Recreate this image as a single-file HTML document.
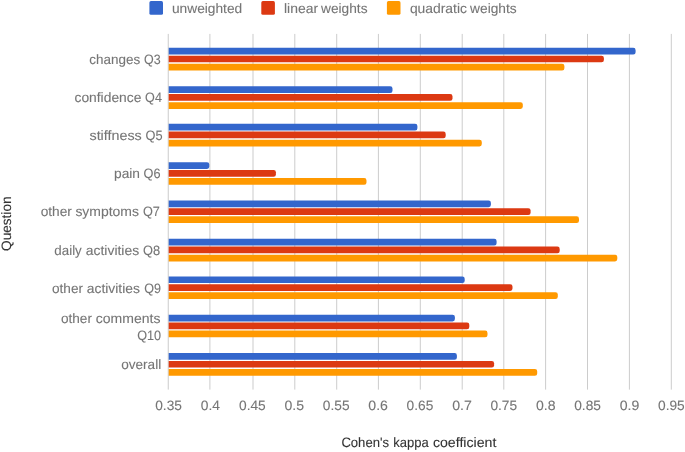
<!DOCTYPE html><html><head><meta charset="utf-8"><style>html,body{margin:0;padding:0;background:#fff}svg{display:block;will-change:transform}text{text-rendering:geometricPrecision;stroke-width:0.1px;paint-order:stroke;font-family:"Liberation Sans",sans-serif;font-size:13.6px}</style></head><body>
<svg width="685" height="452" viewBox="0 0 685 452">
<rect width="685" height="452" fill="#fff"/>
<rect x="167.75" y="33.9" width="1" height="355.70" fill="#ccc"/>
<rect x="209.40" y="33.9" width="1" height="355.70" fill="#ccc"/>
<rect x="252.50" y="33.9" width="1" height="355.70" fill="#ccc"/>
<rect x="294.30" y="33.9" width="1" height="355.70" fill="#ccc"/>
<rect x="336.20" y="33.9" width="1" height="355.70" fill="#ccc"/>
<rect x="377.90" y="33.9" width="1" height="355.70" fill="#ccc"/>
<rect x="419.80" y="33.9" width="1" height="355.70" fill="#ccc"/>
<rect x="461.70" y="33.9" width="1" height="355.70" fill="#ccc"/>
<rect x="503.30" y="33.9" width="1" height="355.70" fill="#ccc"/>
<rect x="545.10" y="33.9" width="1" height="355.70" fill="#ccc"/>
<rect x="587.00" y="33.9" width="1" height="355.70" fill="#ccc"/>
<rect x="628.90" y="33.9" width="1" height="355.70" fill="#ccc"/>
<rect x="670.80" y="33.9" width="1" height="355.70" fill="#ccc"/>
<path d="M168.70,47.85H633.30A2.3,2.3 0 0 1 635.60,50.15V52.25A2.3,2.3 0 0 1 633.30,54.55H168.70Z" fill="#3366cc"/>
<path d="M168.70,55.65H601.60A2.3,2.3 0 0 1 603.90,57.95V60.05A2.3,2.3 0 0 1 601.60,62.35H168.70Z" fill="#dc3912"/>
<path d="M168.70,63.75H562.10A2.3,2.3 0 0 1 564.40,66.05V68.15A2.3,2.3 0 0 1 562.10,70.45H168.70Z" fill="#ff9900"/>
<path d="M168.70,86.30H390.20A2.3,2.3 0 0 1 392.50,88.60V90.70A2.3,2.3 0 0 1 390.20,93.00H168.70Z" fill="#3366cc"/>
<path d="M168.70,94.10H450.20A2.3,2.3 0 0 1 452.50,96.40V98.50A2.3,2.3 0 0 1 450.20,100.80H168.70Z" fill="#dc3912"/>
<path d="M168.70,102.20H520.50A2.3,2.3 0 0 1 522.80,104.50V106.60A2.3,2.3 0 0 1 520.50,108.90H168.70Z" fill="#ff9900"/>
<path d="M168.70,123.80H415.10A2.3,2.3 0 0 1 417.40,126.10V128.20A2.3,2.3 0 0 1 415.10,130.50H168.70Z" fill="#3366cc"/>
<path d="M168.70,131.60H443.40A2.3,2.3 0 0 1 445.70,133.90V136.00A2.3,2.3 0 0 1 443.40,138.30H168.70Z" fill="#dc3912"/>
<path d="M168.70,139.70H479.50A2.3,2.3 0 0 1 481.80,142.00V144.10A2.3,2.3 0 0 1 479.50,146.40H168.70Z" fill="#ff9900"/>
<path d="M168.70,162.20H207.00A2.3,2.3 0 0 1 209.30,164.50V166.60A2.3,2.3 0 0 1 207.00,168.90H168.70Z" fill="#3366cc"/>
<path d="M168.70,170.00H273.60A2.3,2.3 0 0 1 275.90,172.30V174.40A2.3,2.3 0 0 1 273.60,176.70H168.70Z" fill="#dc3912"/>
<path d="M168.70,178.10H364.20A2.3,2.3 0 0 1 366.50,180.40V182.50A2.3,2.3 0 0 1 364.20,184.80H168.70Z" fill="#ff9900"/>
<path d="M168.70,200.45H488.60A2.3,2.3 0 0 1 490.90,202.75V204.85A2.3,2.3 0 0 1 488.60,207.15H168.70Z" fill="#3366cc"/>
<path d="M168.70,208.25H528.30A2.3,2.3 0 0 1 530.60,210.55V212.65A2.3,2.3 0 0 1 528.30,214.95H168.70Z" fill="#dc3912"/>
<path d="M168.70,216.35H576.70A2.3,2.3 0 0 1 579.00,218.65V220.75A2.3,2.3 0 0 1 576.70,223.05H168.70Z" fill="#ff9900"/>
<path d="M168.70,238.80H494.30A2.3,2.3 0 0 1 496.60,241.10V243.20A2.3,2.3 0 0 1 494.30,245.50H168.70Z" fill="#3366cc"/>
<path d="M168.70,246.60H557.40A2.3,2.3 0 0 1 559.70,248.90V251.00A2.3,2.3 0 0 1 557.40,253.30H168.70Z" fill="#dc3912"/>
<path d="M168.70,254.70H615.00A2.3,2.3 0 0 1 617.30,257.00V259.10A2.3,2.3 0 0 1 615.00,261.40H168.70Z" fill="#ff9900"/>
<path d="M168.70,276.40H462.40A2.3,2.3 0 0 1 464.70,278.70V280.80A2.3,2.3 0 0 1 462.40,283.10H168.70Z" fill="#3366cc"/>
<path d="M168.70,284.20H510.20A2.3,2.3 0 0 1 512.50,286.50V288.60A2.3,2.3 0 0 1 510.20,290.90H168.70Z" fill="#dc3912"/>
<path d="M168.70,292.30H555.50A2.3,2.3 0 0 1 557.80,294.60V296.70A2.3,2.3 0 0 1 555.50,299.00H168.70Z" fill="#ff9900"/>
<path d="M168.70,314.70H452.60A2.3,2.3 0 0 1 454.90,317.00V319.10A2.3,2.3 0 0 1 452.60,321.40H168.70Z" fill="#3366cc"/>
<path d="M168.70,322.50H467.00A2.3,2.3 0 0 1 469.30,324.80V326.90A2.3,2.3 0 0 1 467.00,329.20H168.70Z" fill="#dc3912"/>
<path d="M168.70,330.60H485.20A2.3,2.3 0 0 1 487.50,332.90V335.00A2.3,2.3 0 0 1 485.20,337.30H168.70Z" fill="#ff9900"/>
<path d="M168.70,353.10H454.60A2.3,2.3 0 0 1 456.90,355.40V357.50A2.3,2.3 0 0 1 454.60,359.80H168.70Z" fill="#3366cc"/>
<path d="M168.70,360.90H491.80A2.3,2.3 0 0 1 494.10,363.20V365.30A2.3,2.3 0 0 1 491.80,367.60H168.70Z" fill="#dc3912"/>
<path d="M168.70,369.00H534.90A2.3,2.3 0 0 1 537.20,371.30V373.40A2.3,2.3 0 0 1 534.90,375.70H168.70Z" fill="#ff9900"/>
<text transform="translate(89.29,63.9) scale(0.9911,1)" fill="#757575" stroke="#757575">changes</text>
<text transform="translate(144.04,63.9) scale(0.9169,1)" fill="#757575" stroke="#757575">Q3</text>
<text transform="translate(74.48,101.9) scale(1.0173,1)" fill="#757575" stroke="#757575">confidence</text>
<text transform="translate(145.09,101.9) scale(0.9260,1)" fill="#757575" stroke="#757575">Q4</text>
<text transform="translate(89.47,140.0) scale(1.0537,1)" fill="#757575" stroke="#757575">stiffness</text>
<text transform="translate(145.53,140.0) scale(0.9412,1)" fill="#757575" stroke="#757575">Q5</text>
<text transform="translate(114.02,178.0) scale(1.0113,1)" fill="#757575" stroke="#757575">pain</text>
<text transform="translate(143.53,178.0) scale(0.9374,1)" fill="#757575" stroke="#757575">Q6</text>
<text transform="translate(40.69,216.0) scale(1.0079,1)" fill="#757575" stroke="#757575">other</text>
<text transform="translate(75.38,216.0) scale(1.0265,1)" fill="#757575" stroke="#757575">symptoms</text>
<text transform="translate(142.93,216.0) scale(0.9345,1)" fill="#757575" stroke="#757575">Q7</text>
<text transform="translate(54.36,254.6) scale(0.9809,1)" fill="#757575" stroke="#757575">daily</text>
<text transform="translate(85.76,254.6) scale(1.0242,1)" fill="#757575" stroke="#757575">activities</text>
<text transform="translate(143.03,254.6) scale(0.9432,1)" fill="#757575" stroke="#757575">Q8</text>
<text transform="translate(52.04,292.6) scale(0.9997,1)" fill="#757575" stroke="#757575">other</text>
<text transform="translate(86.76,292.6) scale(1.0203,1)" fill="#757575" stroke="#757575">activities</text>
<text transform="translate(144.24,292.6) scale(0.9252,1)" fill="#757575" stroke="#757575">Q9</text>
<text transform="translate(60.94,322.5) scale(0.9997,1)" fill="#757575" stroke="#757575">other</text>
<text transform="translate(95.78,322.5) scale(1.0315,1)" fill="#757575" stroke="#757575">comments</text>
<text transform="translate(137.13,339.5) scale(0.9308,1)" fill="#757575" stroke="#757575">Q10</text>
<text transform="translate(121.19,369.1) scale(0.9987,1)" fill="#757575" stroke="#757575">overall</text>
<text transform="translate(171.98,13.1) scale(1.0094,1)" fill="#757575" stroke="#757575">unweighted</text>
<text transform="translate(284.00,13.1) scale(1.0253,1)" fill="#757575" stroke="#757575">linear</text>
<text transform="translate(321.00,13.1) scale(1.0090,1)" fill="#757575" stroke="#757575">weights</text>
<text transform="translate(409.88,13.1) scale(1.0209,1)" fill="#757575" stroke="#757575">quadratic</text>
<text transform="translate(470.10,13.1) scale(1.0112,1)" fill="#757575" stroke="#757575">weights</text>
<text transform="translate(341.38,447.45) scale(0.9636,1)" fill="#333" stroke="#333">Cohen&#39;s</text>
<text transform="translate(393.35,447.45) scale(0.9568,1)" fill="#333" stroke="#333">kappa</text>
<text transform="translate(432.92,447.45) scale(1.0406,1)" fill="#333" stroke="#333">coefficient</text>
<text transform="translate(155.19,410.0) scale(1.0100,1)" fill="#757575" stroke="#757575">0.35</text>
<text transform="translate(200.74,410.0) scale(1.0156,1)" fill="#757575" stroke="#757575">0.4</text>
<text transform="translate(238.99,410.0) scale(1.0100,1)" fill="#757575" stroke="#757575">0.45</text>
<text transform="translate(284.53,410.0) scale(1.0356,1)" fill="#757575" stroke="#757575">0.5</text>
<text transform="translate(322.79,410.0) scale(1.0100,1)" fill="#757575" stroke="#757575">0.55</text>
<text transform="translate(368.33,410.0) scale(1.0382,1)" fill="#757575" stroke="#757575">0.6</text>
<text transform="translate(406.59,410.0) scale(1.0100,1)" fill="#757575" stroke="#757575">0.65</text>
<text transform="translate(452.13,410.0) scale(1.0403,1)" fill="#757575" stroke="#757575">0.7</text>
<text transform="translate(490.39,410.0) scale(1.0100,1)" fill="#757575" stroke="#757575">0.75</text>
<text transform="translate(535.93,410.0) scale(1.0351,1)" fill="#757575" stroke="#757575">0.8</text>
<text transform="translate(574.19,410.0) scale(1.0100,1)" fill="#757575" stroke="#757575">0.85</text>
<text transform="translate(619.73,410.0) scale(1.0372,1)" fill="#757575" stroke="#757575">0.9</text>
<text transform="translate(657.99,410.0) scale(1.0100,1)" fill="#757575" stroke="#757575">0.95</text>
<text transform="translate(11,250.95) rotate(-90) scale(1.0013,1)" fill="#333" stroke="#333">Question</text>
<rect x="149.4" y="1.05" width="13.6" height="13.7" rx="1.6" fill="#3366cc"/>
<rect x="261.3" y="1.05" width="13.6" height="13.7" rx="1.6" fill="#dc3912"/>
<rect x="386.9" y="1.05" width="13.6" height="13.7" rx="1.6" fill="#ff9900"/>
</svg></body></html>
